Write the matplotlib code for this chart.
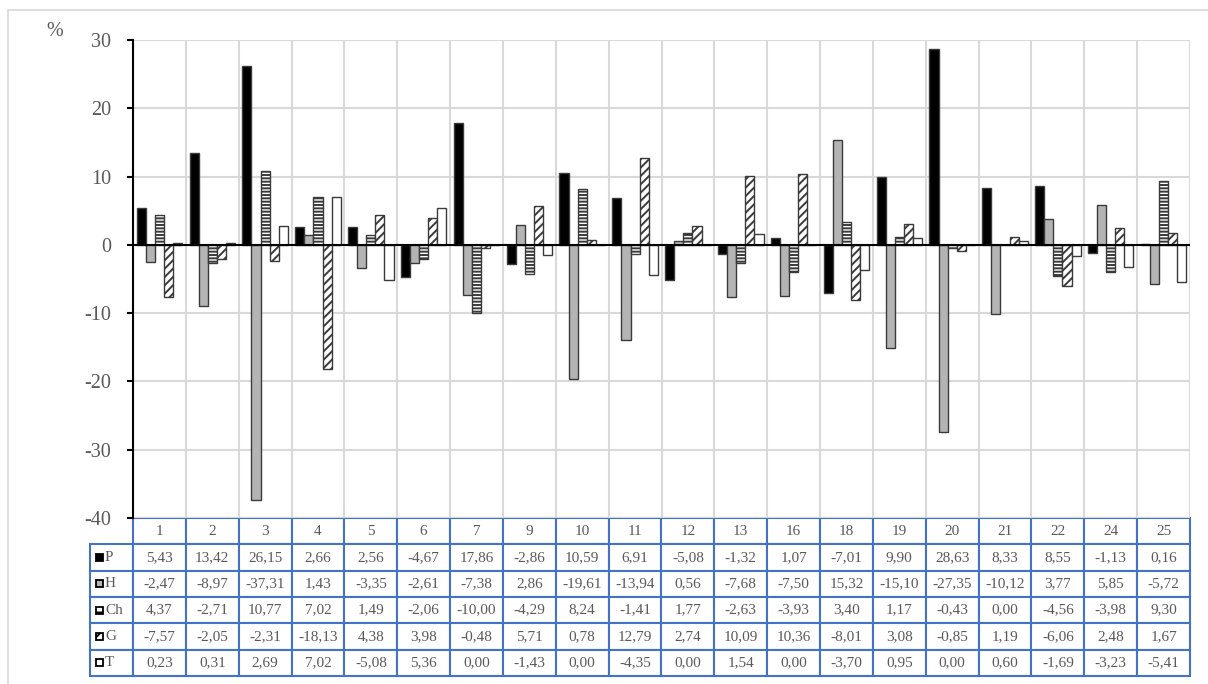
import numpy as np
import matplotlib
matplotlib.use("Agg")
import matplotlib.pyplot as plt
from matplotlib.patches import Rectangle

plt.rcParams['font.family'] = ['Liberation Serif', 'DejaVu Serif']
plt.rcParams['axes.unicode_minus'] = False
plt.rcParams['hatch.linewidth'] = 1.4

categories = ["1", "2", "3", "4", "5", "6", "7", "9", "10", "11",
              "12", "13", "16", "18", "19", "20", "21", "22", "24", "25"]
series_names = ["P", "H", "Ch", "G", "T"]

p_vals = [5.43, 13.42, 26.15, 2.66, 2.56, -4.67, 17.86, -2.86, 10.59, 6.91,
          -5.08, -1.32, 1.07, -7.01, 9.90, 28.63, 8.33, 8.55, -1.13, 0.16]
h_vals = [-2.47, -8.97, -37.31, 1.43, -3.35, -2.61, -7.38, 2.86, -19.61, -13.94,
          0.56, -7.68, -7.50, 15.32, -15.10, -27.35, -10.12, 3.77, 5.85, -5.72]
ch_vals = [4.37, -2.71, 10.77, 7.02, 1.49, -2.06, -10.00, -4.29, 8.24, -1.41,
           1.77, -2.63, -3.93, 3.40, 1.17, -0.43, 0.00, -4.56, -3.98, 9.30]
g_vals = [-7.57, -2.05, -2.31, -18.13, 4.38, 3.98, -0.48, 5.71, 0.78, 12.79,
          2.74, 10.09, 10.36, -8.01, 3.08, -0.85, 1.19, -6.06, 2.48, 1.67]
t_vals = [0.23, 0.31, 2.69, 7.02, -5.08, 5.36, 0.00, -1.43, 0.00, -4.35,
          0.00, 1.54, 0.00, -3.70, 0.95, 0.00, 0.60, -1.69, -3.23, -5.41]

all_vals = [p_vals, h_vals, ch_vals, g_vals, t_vals]
fills = ["#000000", "#b4b4b4", "white", "white", "white"]
hatches = [None, None, "-----", "////", None]
key_hatches = [None, None, "--", "//", None]

text_col = "#595959"
blue = "#4472c4"
grid_col = "#d9d9d9"

fig = plt.figure(figsize=(12.08, 6.84), dpi=100)
ax = fig.add_axes([133 / 1208, 1 - 518 / 684, 1057 / 1208, 478 / 684])

# outer frame of the chart area
fig.patches.append(Rectangle((8 / 1208, -0.1), 1.2, (674 / 684) + 0.1,
                             transform=fig.transFigure, fill=False,
                             edgecolor=grid_col, lw=1.2))

n = len(categories)
x = np.arange(n)
bw = 0.172
for k, vals in enumerate(all_vals):
    ax.bar(x + (k - 2) * bw, vals, width=bw, color=fills[k], hatch=hatches[k],
           edgecolor="#3a3a3a", linewidth=1.0, zorder=3)

ax.set_xlim(-0.5, n - 0.5)
ax.set_ylim(-40, 30)
ax.set_yticks(np.arange(-40, 31, 10))
ax.set_xticks(np.arange(-0.5, n, 1.0), minor=True)
ax.set_xticks([])
ax.grid(axis="y", color=grid_col, lw=1.5, zorder=0)
ax.grid(axis="x", which="minor", color=grid_col, lw=1.5, zorder=0)
ax.axhline(0, color="black", lw=1.5, zorder=4)
for s in ["top", "right", "bottom"]:
    ax.spines[s].set_visible(False)
ax.spines["left"].set_linewidth(1.5)
ax.tick_params(axis="y", labelsize=14.5, labelcolor=text_col, length=4.5,
               width=1.5, pad=11)
ax.tick_params(axis="x", which="both", length=0)
ax.text(-0.074, 1.017, "%", transform=ax.transAxes, fontsize=14.5,
        color=text_col, ha="center", va="center")

# data table (bbox covers the header + data grid, label column sits left of it)
cell_text = [[f"{v:.2f}".replace(".", ",") for v in vals] for vals in all_vals]
lab_w = 43 / 1057
tab_h = 158 / 478
tbl = ax.table(cellText=cell_text, colLabels=categories,
               colWidths=[1.0 / n] * n, cellLoc="center",
               bbox=[0, -tab_h, 1.0, tab_h])
cell_h = tbl[0, 0].get_height()
for r in range(1, 6):
    tbl.add_cell(r, -1, width=lab_w, height=cell_h, text="")
tbl.auto_set_font_size(False)
for (r, c), cell in tbl.get_celld().items():
    cell.set_edgecolor(blue)
    cell.set_linewidth(1.5)
    cell.get_text().set_color(text_col)
    cell.get_text().set_fontsize(11)

# legend keys inside row labels
row_h = tab_h / 6
for k, name in enumerate(series_names):
    yc = -row_h * (k + 1.5)
    sq = 7 / 478
    ax.add_patch(Rectangle((-lab_w + 6 / 1057, yc - sq / 2), 7 / 1057, sq,
                           transform=ax.transAxes, clip_on=False,
                           facecolor=fills[k], hatch=key_hatches[k],
                           edgecolor="black", lw=1.3, zorder=5))
    ax.text(-lab_w + 15 / 1057, yc, name, transform=ax.transAxes,
            fontsize=11, color=text_col, ha="left", va="center")

fig.savefig("out.png", dpi=100)
